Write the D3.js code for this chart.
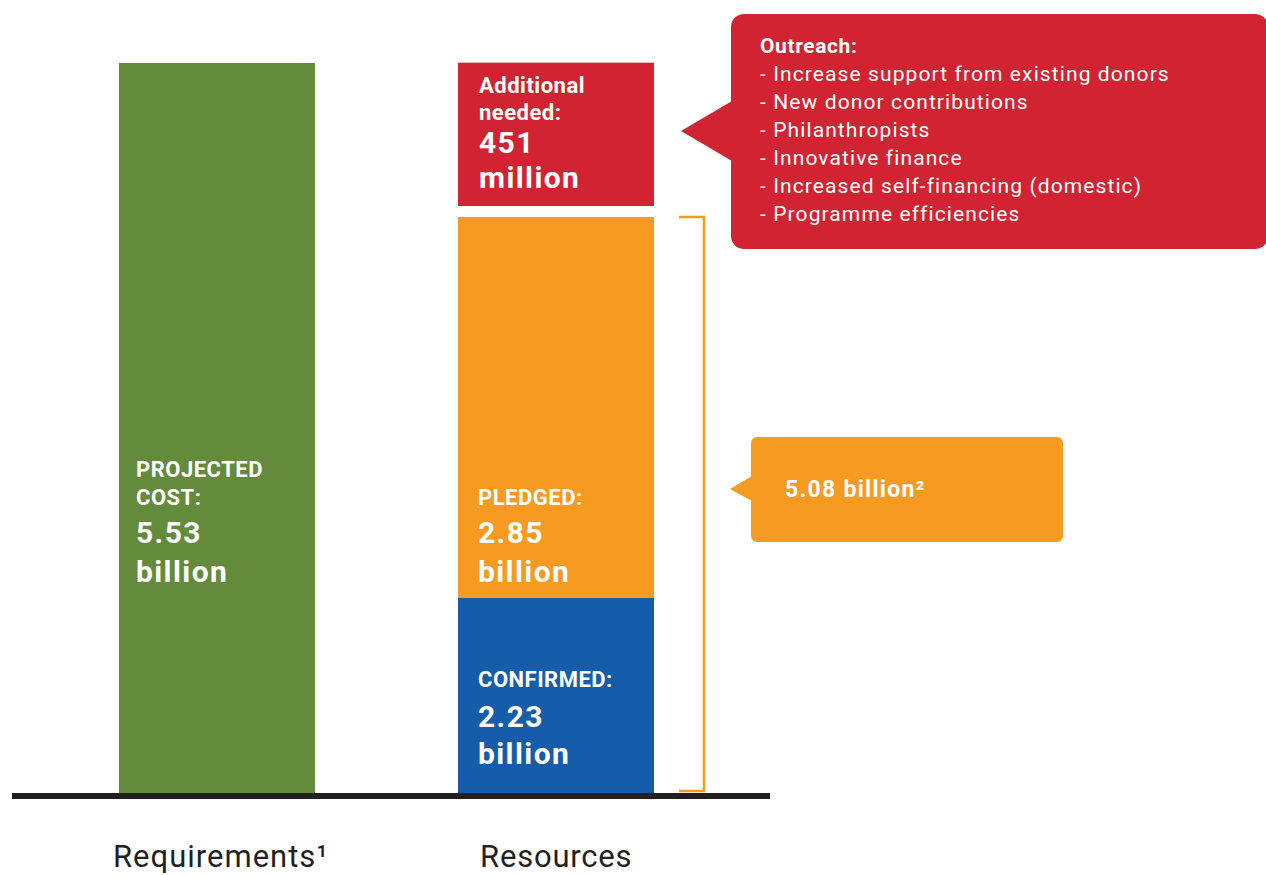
<!DOCTYPE html>
<html>
<head>
<meta charset="utf-8">
<script src="https://cdn.jsdelivr.net/npm/d3@7"></script>
<style>
  html, body { margin: 0; padding: 0; background: #ffffff; }
  svg { display: block; }
  text { font-family: Roboto, "DejaVu Sans", sans-serif; }
</style>
</head>
<body>
<svg id="chart" width="1266" height="875"></svg>
<script>
// ---- data (US$ billions) ----
const categories = ["Requirements", "Resources"];
const categoryLabels = ["Requirements\u00B9", "Resources"];
const projectedCost = 5.53;
const resourceNames = ["confirmed", "pledged", "additional"];
const resourceValues = [2.23, 2.85, 0.451];
const resourceTitles = [["CONFIRMED:"], ["PLEDGED:"], ["Additional", "needed:"]];
const resourceAmounts = [["2.23", "billion"], ["2.85", "billion"], ["451", "million"]];
const costTitle = ["PROJECTED", "COST:"];
const costAmount = ["5.53", "billion"];
const securedLabel = "5.08 billion\u00B2";
const outreachTitle = "Outreach:";
const outreachItems = [
  "- Increase support from existing donors",
  "- New donor contributions",
  "- Philanthropists",
  "- Innovative finance",
  "- Increased self-financing (domestic)",
  "- Programme efficiencies"
];

// ---- palette ----
const colors = {
  cost: "#648a3b",
  confirmed: "#155caa",
  pledged: "#f79a21",
  additional: "#d12331",
  ink: "#231f20"
};

const svg = d3.select("#chart");

// stacked resources
let acc = 0;
const stack = resourceValues.map((v, i) => {
  const d = { key: resourceNames[i], y0: acc, y1: acc + v, title: resourceTitles[i], amount: resourceAmounts[i] };
  acc += v;
  return d;
});
const secured = resourceValues[0] + resourceValues[1];

// schematic (piecewise) value scale: each stack segment gets its own band of height
const y = d3.scaleLinear()
  .domain([0, stack[0].y1, stack[1].y1, projectedCost])
  .range([793, 598, 217, 63]);

const x = d3.scaleBand()
  .domain(categories)
  .range([119, 654])
  .paddingInner(143 / 339)
  .paddingOuter(0);

const bw = x.bandwidth();
const gapAboveSecured = 11;

// ---- requirements bar ----
svg.append("rect")
  .attr("x", x("Requirements"))
  .attr("y", y(projectedCost))
  .attr("width", bw)
  .attr("height", y(0) - y(projectedCost))
  .attr("fill", colors.cost);

// ---- resources stack ----
svg.selectAll("rect.seg")
  .data(stack)
  .join("rect")
  .attr("class", "seg")
  .attr("x", x("Resources"))
  .attr("y", d => y(d.y1))
  .attr("width", bw)
  .attr("height", d => (y(d.y0) - y(d.y1)) - (d.key === "additional" ? gapAboveSecured : 0))
  .attr("fill", d => colors[d.key]);

// ---- labels inside bars ----
function barLabel(x0, titleLines, amountLines, titleBase, amountBase, titleStep, amountStep) {
  const g = svg.append("g").attr("fill", "#ffffff").attr("font-weight", 700);
  titleLines.forEach((t, i) => {
    g.append("text")
      .attr("x", x0).attr("y", titleBase + i * titleStep)
      .attr("font-size", 22)
      .attr("letter-spacing", 0.5)
      .text(t);
  });
  amountLines.forEach((t, i) => {
    g.append("text")
      .attr("x", x0).attr("y", amountBase + i * amountStep)
      .attr("font-size", 30)
      .attr("letter-spacing", 1.4)
      .text(t);
  });
}

const xc = x("Requirements") + 17;
const xr = x("Resources") + 20;

barLabel(xc, costTitle, costAmount, 477, 543, 28, 39);
barLabel(xr, stack[1].title, stack[1].amount, y(stack[1].y0) - 93, y(stack[1].y0) - 55, 28, 39);
barLabel(xr, stack[0].title, stack[0].amount, y(stack[0].y0) - 106, y(stack[0].y0) - 66, 28, 37);
barLabel(xr + 1, stack[2].title, stack[2].amount, y(stack[2].y1) + 30, y(stack[2].y1) + 90, 27, 35);

// ---- baseline ----
svg.append("line")
  .attr("x1", 12).attr("x2", 770)
  .attr("y1", y(0) + 3).attr("y2", y(0) + 3)
  .attr("stroke", colors.ink)
  .attr("stroke-width", 6);

// ---- category labels ----
svg.selectAll("text.cat")
  .data(categories)
  .join("text")
  .attr("class", "cat")
  .attr("x", (d, i) => x(d) + (i === 0 ? -6 : 22))
  .attr("y", 867)
  .attr("font-size", 31)
  .attr("letter-spacing", (d, i) => i === 0 ? 1.0 : 0.8)
  .attr("fill", colors.ink)
  .text((d, i) => categoryLabels[i]);

// ---- bracket spanning confirmed + pledged ----
const bx = 704;
svg.append("path")
  .attr("d", `M${bx - 25},${y(secured)} H${bx} V${y(0) - 2} H${bx - 25}`)
  .attr("fill", "none")
  .attr("stroke", colors.pledged)
  .attr("stroke-width", 2.6);

// ---- secured callout ----
const sc = { x: 751, y: 437, w: 312, h: 105, tipX: 730, tipY: 489 };
svg.append("rect")
  .attr("x", sc.x).attr("y", sc.y)
  .attr("width", sc.w).attr("height", sc.h)
  .attr("rx", 6)
  .attr("fill", colors.pledged);
svg.append("path")
  .attr("d", `M${sc.tipX},${sc.tipY} L${sc.x + 1},${sc.tipY - 13} L${sc.x + 1},${sc.tipY + 12} Z`)
  .attr("fill", colors.pledged);
svg.append("text")
  .attr("x", 785).attr("y", 497)
  .attr("font-size", 23)
  .attr("font-weight", 700)
  .attr("letter-spacing", 1.3)
  .attr("fill", "#ffffff")
  .text(securedLabel);

// ---- outreach callout ----
const oc = { x: 731, y: 14, w: 537, h: 235, tipX: 681, tipY: 131 };
svg.append("rect")
  .attr("x", oc.x).attr("y", oc.y)
  .attr("width", oc.w).attr("height", oc.h)
  .attr("rx", 13)
  .attr("fill", colors.additional);
svg.append("path")
  .attr("d", `M${oc.tipX},${oc.tipY} L${oc.x + 1},${oc.tipY - 30} L${oc.x + 1},${oc.tipY + 30} Z`)
  .attr("fill", colors.additional);

const og = svg.append("g").attr("fill", "#ffffff");
og.append("text")
  .attr("x", 760).attr("y", 53)
  .attr("font-size", 21)
  .attr("font-weight", 700)
  .attr("letter-spacing", 0.6)
  .text(outreachTitle);
og.selectAll("text.item")
  .data(outreachItems)
  .join("text")
  .attr("class", "item")
  .attr("x", 760)
  .attr("y", (d, i) => 81 + i * 28)
  .attr("font-size", 21)
  .attr("letter-spacing", 1.1)
  .text(d => d);
</script>
</body>
</html>
